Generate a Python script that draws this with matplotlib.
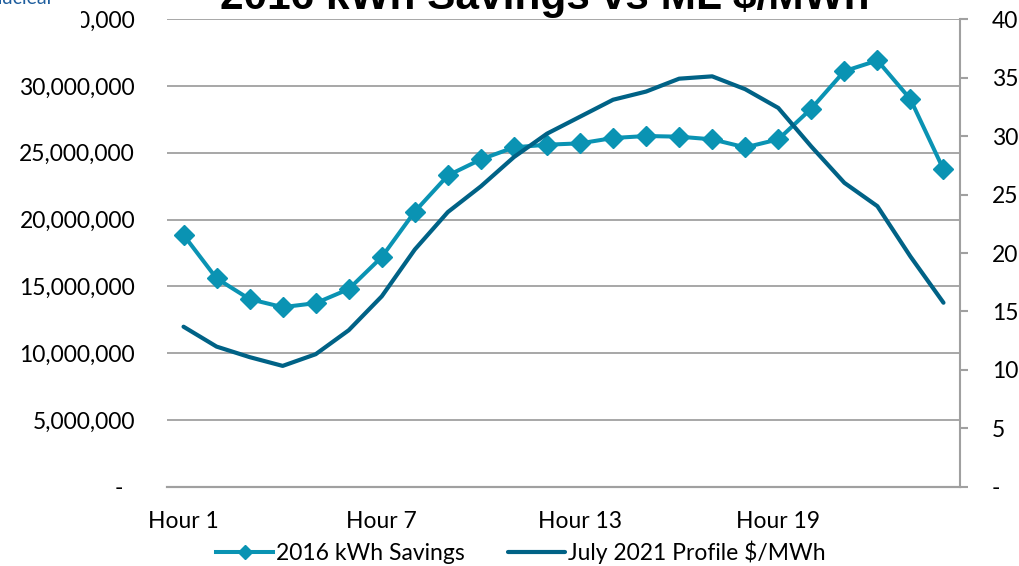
import matplotlib
matplotlib.use("Agg")
import matplotlib.pyplot as plt
from matplotlib.ticker import FuncFormatter, MultipleLocator
from matplotlib.patches import Rectangle

plt.rcParams['font.family'] = ['Lato', 'DejaVu Sans']

# hourly data
hours = list(range(1, 25))
savings_kwh = [18.85e6, 15.6e6, 14.05e6, 13.45e6, 13.75e6, 14.8e6, 17.2e6, 20.6e6,
               23.3e6, 24.5e6, 25.4e6, 25.6e6, 25.7e6, 26.1e6, 26.25e6, 26.2e6,
               26.0e6, 25.4e6, 26.0e6, 28.3e6, 31.1e6, 31.9e6, 29.0e6, 23.75e6]
price_mwh = [13.7, 12.0, 11.1, 10.35, 11.35, 13.4, 16.3, 20.3, 23.5, 25.7, 28.2, 30.2,
             31.65, 33.1, 33.8, 34.9, 35.1, 34.0, 32.4, 29.1, 26.0, 24.0, 19.7, 15.75]
tick_hours = [1, 7, 13, 19]

c_sav = '#0A93B3'
c_price = '#006286'
c_grid = '#A0A0A0'

fig = plt.figure(figsize=(10.19, 5.66), dpi=100)
ax = fig.add_axes([0.1639, 0.1396, 0.7782, 0.8268])
ax2 = ax.twinx()

x = list(range(len(hours)))
ax.plot(x, savings_kwh, color=c_sav, lw=2.9, marker='D', ms=10,
        mec=c_sav, mfc=c_sav, label='2016 kWh Savings')
ax2.plot(x, price_mwh, color=c_price, lw=3.0, label='July 2021 Profile $/MWh',
         solid_capstyle='round')

ax.set_xlim(-0.5, len(hours) - 0.5)
ax.set_ylim(0, 35e6)
ax2.set_ylim(0, 40)
ax.yaxis.set_major_locator(MultipleLocator(5e6))
ax2.yaxis.set_major_locator(MultipleLocator(5))

ax.yaxis.set_major_formatter(FuncFormatter(lambda v, p: '-  ' if v == 0 else f'{v:,.0f}'))
ax2.yaxis.set_major_formatter(FuncFormatter(lambda v, p: '-' if v == 0 else f'{v:.0f}'))

ax.set_xticks([h - 1 for h in tick_hours])
ax.set_xticklabels([f'Hour {h}' for h in tick_hours])

ax.grid(axis='y', color=c_grid, lw=1.3)
ax.set_axisbelow(True)

for a in (ax, ax2):
    for s in ('top', 'left'):
        a.spines[s].set_visible(False)
    a.spines['bottom'].set_color(c_grid)
    a.spines['bottom'].set_linewidth(1.5)
    a.spines['right'].set_visible(False)
ax2.spines['right'].set_visible(True)
ax2.spines['right'].set_color(c_grid)
ax2.spines['right'].set_linewidth(1.5)

ax.tick_params(axis='y', length=0, pad=23, labelsize=16.5, colors='black')
ax.tick_params(axis='x', length=0, pad=17, labelsize=16.5)
ax2.tick_params(axis='y', length=6, width=1.5, color=c_grid, pad=17, labelsize=16.5)

# legend below the plot
h1, l1 = ax.get_legend_handles_labels()
h2, l2 = ax2.get_legend_handles_labels()
fig.legend(h1 + h2, l1 + l2, loc='center', bbox_to_anchor=(0.511, 0.025), ncol=2,
           frameon=False, fontsize=16.5, handlelength=2.5, handletextpad=0.1,
           columnspacing=1.9, markerscale=0.75)

# title (cropped at the top in the original)
fig.text(0.5345, 0.984, '2016 kWh Savings vs ML $/MWh', ha='center', va='baseline',
         fontsize=30.5, fontweight='bold', family='Liberation Sans')

# white box hiding the left of the top label, plus the clipped caption
fig.patches.append(Rectangle((0, 1 - 34 / 566), 81 / 1019, 34 / 566,
                             transform=fig.transFigure, facecolor='white',
                             edgecolor='none', zorder=5))
fig.text(-0.013, 0.993, 'Nuclear', color='#1F5E9E', fontsize=14, va='baseline',
         zorder=6)

fig.savefig('out.png', dpi=100)
